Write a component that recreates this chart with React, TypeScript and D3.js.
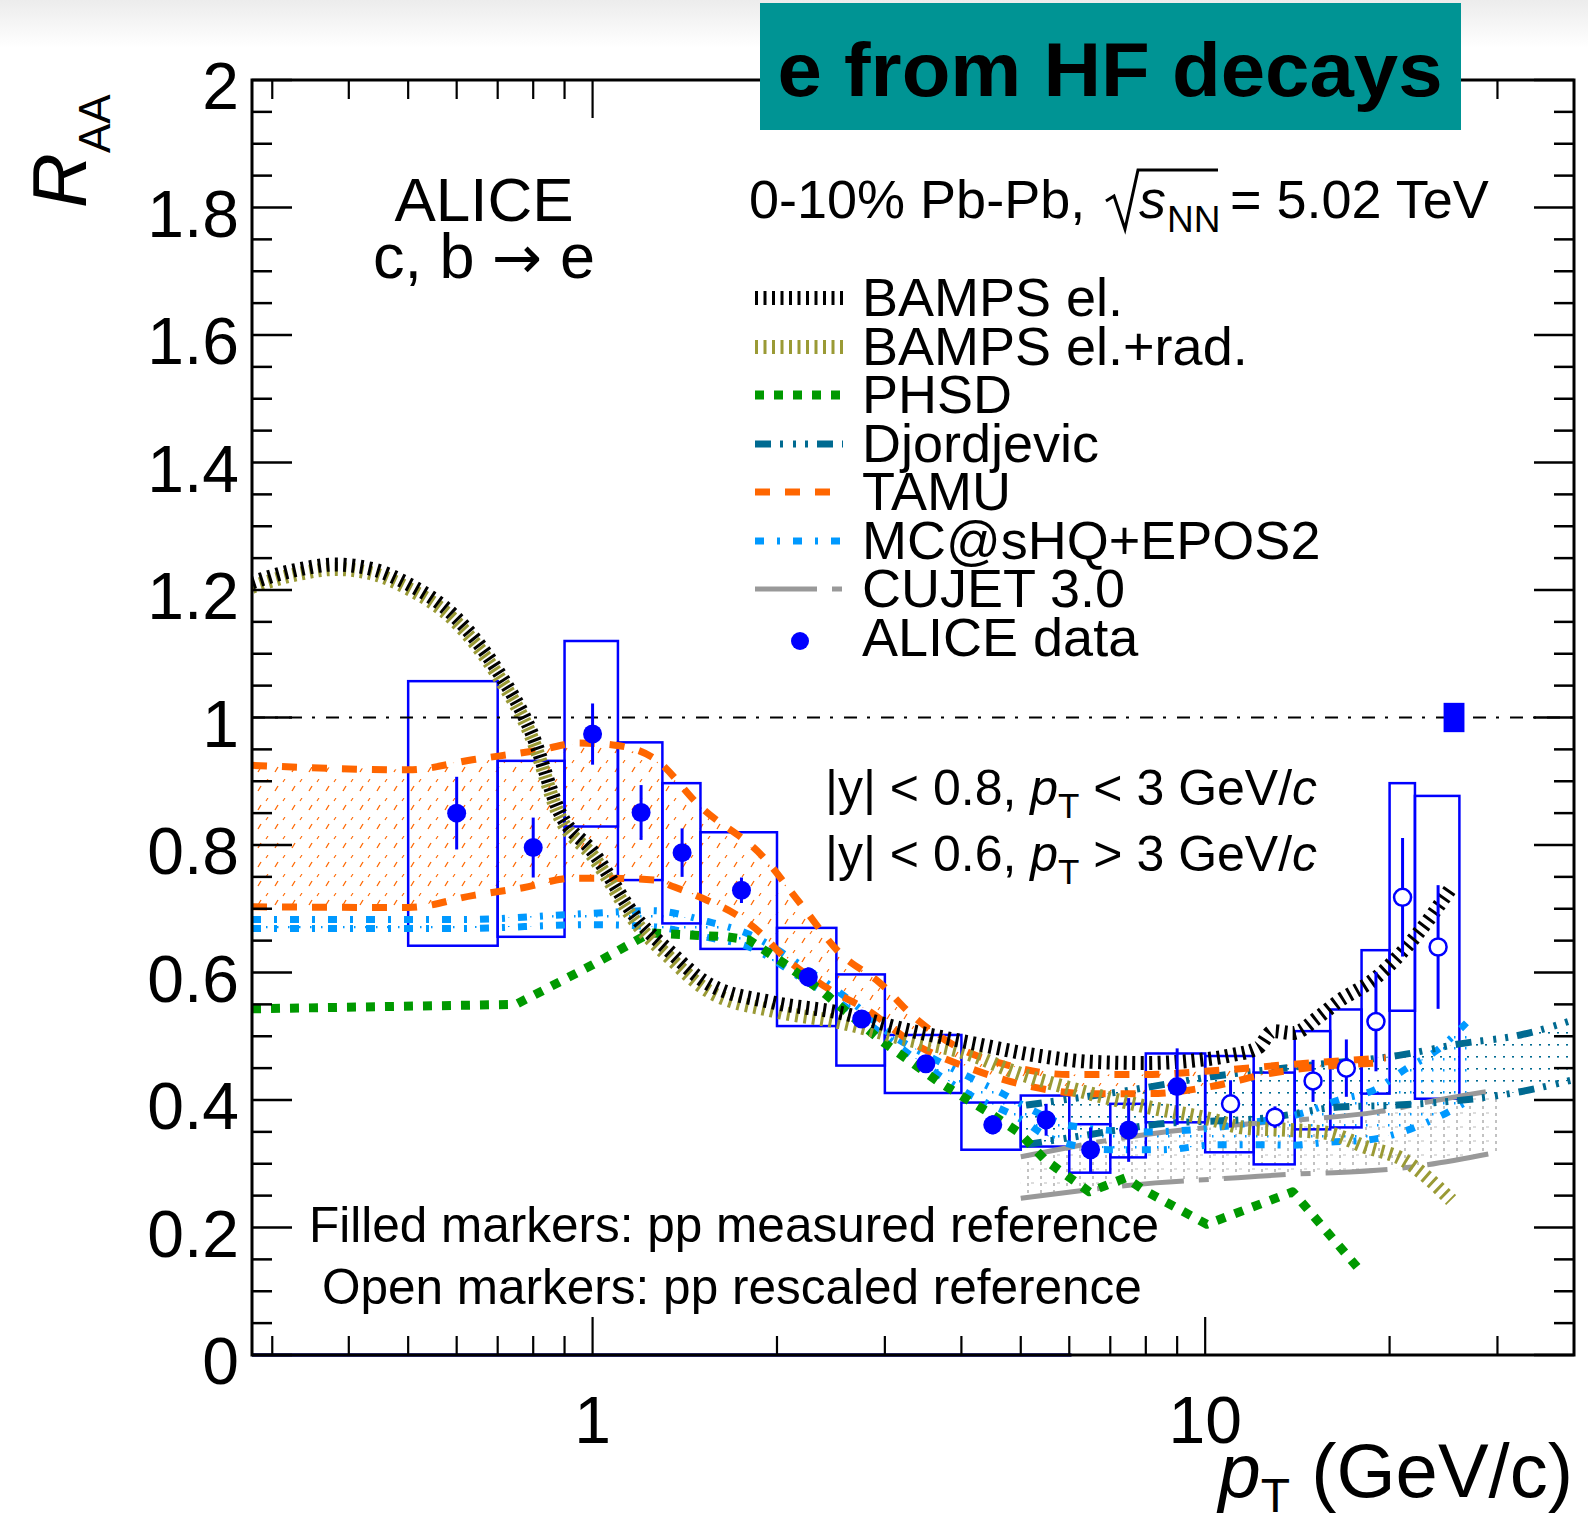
import React from 'react';
import * as d3 from 'd3';

const W = 1588;
const H = 1527;
const FONT = '"Liberation Sans", Arial, Helvetica, sans-serif';

// ---------- axes ----------
const ptDomain: [number, number] = [0.278, 40];
const raaDomain: [number, number] = [0, 2];
const yMajorTicks = [0, 0.2, 0.4, 0.6, 0.8, 1, 1.2, 1.4, 1.6, 1.8, 2];
const yTickLabels = ['0', '0.2', '0.4', '0.6', '0.8', '1', '1.2', '1.4', '1.6', '1.8', '2'];
const yMinorTicks = d3.range(0, 41).map((i) => i * 0.05).filter((v) => Math.abs(v * 5 - Math.round(v * 5)) > 1e-6);
const xMajorTicks = [1, 10];
const xTickLabels = ['1', '10'];
const xMinorTicks = [0.3, 0.4, 0.5, 0.6, 0.7, 0.8, 0.9, 2, 3, 4, 5, 6, 7, 8, 9, 20, 30];

// ---------- ALICE data ----------
const dataPt = [0.6, 0.8, 1.0, 1.2, 1.4, 1.75, 2.25, 2.75, 3.5, 4.5, 5.5, 6.5, 7.5, 9, 11, 13, 15, 17, 19, 21, 24];
const dataRaa = [0.85, 0.796, 0.974, 0.851, 0.788, 0.729, 0.593, 0.527, 0.457, 0.361, 0.369, 0.322, 0.353, 0.421, 0.394, 0.373, 0.43, 0.45, 0.523, 0.718, 0.64];
const dataStat = [0.057, 0.047, 0.048, 0.043, 0.038, 0.02, 0.015, 0.012, 0.01, 0.015, 0.025, 0.035, 0.05, 0.06, 0.037, 0.017, 0.033, 0.045, 0.078, 0.093, 0.097];
const dataSysLow = [0.642, 0.656, 0.829, 0.745, 0.677, 0.637, 0.516, 0.454, 0.411, 0.322, 0.327, 0.286, 0.31, 0.365, 0.318, 0.299, 0.354, 0.357, 0.41, 0.54, 0.402];
const dataSysHigh = [1.057, 0.932, 1.12, 0.961, 0.897, 0.82, 0.67, 0.597, 0.502, 0.396, 0.407, 0.362, 0.394, 0.473, 0.469, 0.443, 0.508, 0.542, 0.635, 0.897, 0.877];
const dataBinLow = [0.5, 0.7, 0.9, 1.1, 1.3, 1.5, 2.0, 2.5, 3, 4, 5, 6, 7, 8, 10, 12, 14, 16, 18, 20, 22];
const dataBinHigh = [0.7, 0.9, 1.1, 1.3, 1.5, 2.0, 2.5, 3.0, 4, 5, 6, 7, 8, 10, 12, 14, 16, 18, 20, 22, 26];
const dataOpen = [false, false, false, false, false, false, false, false, false, false, false, false, false, false, true, true, true, true, true, true, true];
const normUncertainty = 0.023;
const normBoxPt: [number, number] = [24.5, 26.5];

// ---------- models ----------
type P = [number, number];
const bampsEl: P[] = [[0.278, 1.212], [0.33, 1.232], [0.38, 1.24], [0.44, 1.232], [0.494, 1.212], [0.598, 1.157], [0.696, 1.077], [0.796, 0.975], [0.885, 0.85], [1.0, 0.79], [1.196, 0.678], [1.33, 0.635], [1.54, 0.583], [1.97, 0.553], [2.53, 0.537], [3.26, 0.51], [4.18, 0.489], [5.38, 0.469], [6.5, 0.46], [8, 0.458], [9.6, 0.462], [11, 0.47], [12.2, 0.482], [12.9, 0.508], [13.9, 0.505], [15.3, 0.53], [16.4, 0.553], [18.9, 0.59], [22.2, 0.66], [25.1, 0.73]];
const bampsElRad: P[] = [[0.278, 1.205], [0.33, 1.225], [0.38, 1.233], [0.44, 1.225], [0.494, 1.205], [0.598, 1.15], [0.696, 1.07], [0.796, 0.968], [0.885, 0.843], [1.0, 0.783], [1.196, 0.67], [1.33, 0.625], [1.54, 0.572], [1.97, 0.54], [2.53, 0.522], [3.26, 0.495], [4.18, 0.47], [4.76, 0.448], [6.15, 0.416], [8.06, 0.389], [10.3, 0.369], [11.5, 0.357], [13.7, 0.353], [15.9, 0.348], [18.2, 0.327], [21, 0.307], [25.2, 0.243]];
const phsd: P[] = [[0.278, 0.543], [0.75, 0.55], [1.0, 0.612], [1.24, 0.662], [1.66, 0.656], [1.8, 0.651], [2.05, 0.615], [2.38, 0.569], [2.95, 0.494], [3.69, 0.427], [4.44, 0.38], [4.98, 0.348], [5.48, 0.306], [6.47, 0.256], [7.42, 0.278], [7.93, 0.259], [10.06, 0.205], [13.9, 0.256], [17.7, 0.138]];
const djordjevicUpper: P[] = [[5.1, 0.392], [7.6, 0.416], [10.3, 0.437], [15, 0.455], [20.7, 0.47], [26, 0.488], [32.7, 0.502], [40, 0.526]];
const djordjevicLower: P[] = [[5.1, 0.33], [6.4, 0.345], [8.2, 0.361], [12.9, 0.373], [16.5, 0.389], [20.6, 0.392], [32.7, 0.413], [40, 0.432]];
const tamuUpper: P[] = [[0.278, 0.925], [0.5, 0.918], [0.64, 0.934], [0.82, 0.949], [0.95, 0.96], [1.08, 0.957], [1.26, 0.936], [1.5, 0.86], [1.9, 0.781], [2.18, 0.709], [2.53, 0.631], [2.95, 0.583], [3.34, 0.531], [3.94, 0.483], [4.74, 0.455], [6, 0.44], [8, 0.44], [10, 0.445], [14.3, 0.457], [19.7, 0.466]];
const tamuLower: P[] = [[0.278, 0.703], [0.5, 0.702], [0.64, 0.721], [0.77, 0.733], [0.93, 0.748], [1.06, 0.748], [1.26, 0.745], [1.36, 0.734], [1.54, 0.713], [1.7, 0.693], [1.88, 0.662], [2.02, 0.631], [2.44, 0.573], [2.8, 0.542], [3.34, 0.489], [4.18, 0.448], [5.2, 0.421], [6.4, 0.41], [8.1, 0.41], [10.2, 0.421], [12.8, 0.442], [15.3, 0.452], [19, 0.458]];
const mcshqUpper: P[] = [[0.278, 0.683], [0.6, 0.683], [1.0, 0.693], [1.25, 0.697], [1.54, 0.68], [1.8, 0.66], [2.2, 0.61], [2.6, 0.56], [3.1, 0.5], [3.6, 0.465], [4.1, 0.437], [4.65, 0.411], [5.3, 0.381], [6, 0.36], [8, 0.35], [10, 0.355], [12, 0.365], [14.5, 0.38], [16.5, 0.4], [18.9, 0.416], [21.2, 0.448], [23.9, 0.478], [26.7, 0.521]];
const mcshqLower: P[] = [[0.278, 0.669], [0.6, 0.669], [1.0, 0.675], [1.25, 0.672], [1.54, 0.655], [1.8, 0.64], [2.2, 0.59], [2.6, 0.545], [3.1, 0.49], [3.6, 0.445], [4.1, 0.41], [5.0, 0.37], [5.6, 0.34], [7, 0.322], [8.5, 0.322], [10.5, 0.33], [12.2, 0.33], [13.9, 0.329], [15.9, 0.334], [18.3, 0.337], [21, 0.35], [24, 0.373], [27, 0.4]];
const cujetUpper: P[] = [[5.0, 0.311], [8.3, 0.348], [11.3, 0.361], [14.3, 0.369], [19, 0.381], [24, 0.4], [30, 0.416]];
const cujetLower: P[] = [[5.0, 0.246], [8.3, 0.27], [11.3, 0.278], [14.1, 0.284], [16.2, 0.286], [21.3, 0.294], [30, 0.318]];
const zeroLine: P[] = [[0.278, 0], [6.05, 0]];

const legendLabels = ['BAMPS el.', 'BAMPS el.+rad.', 'PHSD', 'Djordjevic', 'TAMU', 'MC@sHQ+EPOS2', 'CUJET 3.0', 'ALICE data'];

// ---------- styles ----------
const styles = {
  bampsEl: { stroke: '#000000', strokeWidth: 14, strokeDasharray: '3 5.5' },
  bampsElRad: { stroke: '#9a9a35', strokeWidth: 14, strokeDasharray: '3 5.5' },
  phsd: { stroke: '#009900', strokeWidth: 9, strokeDasharray: '9 10' },
  djordjevic: { stroke: '#006a91', strokeWidth: 7, strokeDasharray: '16 9 3 10 3 9 3 9' },
  tamu: { stroke: '#ff6600', strokeWidth: 7, strokeDasharray: '15 15' },
  mcshq: { stroke: '#0099ff', strokeWidth: 7, strokeDasharray: '9 13 3 13' },
  cujet: { stroke: '#999999', strokeWidth: 5, strokeDasharray: '62 15 10 15' },
};
const BLUE = '#0000ff';

const x = d3.scaleLog().domain(ptDomain).range([252, 1574]);
const y = d3.scaleLinear().domain(raaDomain).range([1355, 80]);
const X0 = x(ptDomain[0]);
const X1 = x(ptDomain[1]);
const Y0 = y(raaDomain[0]);
const Y1 = y(raaDomain[1]);

const lineSmooth = d3.line<P>().x((d) => x(d[0])).y((d) => y(d[1])).curve(d3.curveMonotoneX);
const lineLin = d3.line<P>().x((d) => x(d[0])).y((d) => y(d[1]));
const bandPath = (up: P[], lo: P[]) => lineLin([...up, ...lo.slice().reverse()]) + 'Z';

function Curve({ data, st, smooth = true }: { data: P[]; st: any; smooth?: boolean }) {
  return <path d={(smooth ? lineSmooth : lineLin)(data) || ''} fill="none" {...st} strokeLinecap="butt" strokeLinejoin="round" />;
}

export default function App() {
  const legendStyles = [styles.bampsEl, styles.bampsElRad, styles.phsd, styles.djordjevic, styles.tamu, styles.mcshq, styles.cujet];
  const legendBase = [316, 365, 413, 462, 510, 559, 607, 656];

  return (
    <svg width={W} height={H} viewBox={`0 0 ${W} ${H}`} style={{ position: 'absolute', left: 0, top: 0, display: 'block', background: '#fff' }} fontFamily={FONT}>
      <defs>
        <linearGradient id="topShade" x1="0" y1="0" x2="0" y2="1">
          <stop offset="0" stopColor="#ececec" />
          <stop offset="1" stopColor="#ffffff" />
        </linearGradient>
        <clipPath id="frameClip">
          <rect x={X0} y={Y1} width={X1 - X0} height={Y0 - Y1} />
        </clipPath>
        <pattern id="tamuHatch" width="17" height="19" patternUnits="userSpaceOnUse">
          <path d="M3,12 L6,7" stroke="#ff6600" strokeWidth="1.3" />
          <path d="M11,3 L13,0" stroke="#ff6600" strokeWidth="1.1" />
        </pattern>
        <pattern id="djHatch" width="9" height="12" patternUnits="userSpaceOnUse">
          <rect x="0" y="0" width="2" height="1.6" fill="#006a91" />
        </pattern>
        <pattern id="mcHatch" width="11" height="11" patternUnits="userSpaceOnUse">
          <rect x="2" y="2" width="1.5" height="2.5" fill="#0099ff" />
        </pattern>
        <pattern id="cujetHatch" width="13" height="14" patternUnits="userSpaceOnUse">
          <line x1="1" y1="0" x2="1" y2="3" stroke="#999999" strokeWidth="1.2" />
          <line x1="1" y1="7" x2="1" y2="10" stroke="#999999" strokeWidth="1.2" />
          <line x1="4" y1="7" x2="7" y2="7" stroke="#bbbbbb" strokeWidth="1" />
        </pattern>
      </defs>

      <rect x={0} y={0} width={W} height={48} fill="url(#topShade)" />

      {/* bands & models */}
      <g clipPath="url(#frameClip)">
        <path d={bandPath(tamuUpper, tamuLower)} fill="url(#tamuHatch)" />
        <path d={bandPath(cujetUpper, cujetLower)} fill="url(#cujetHatch)" />
        <path d={bandPath(djordjevicUpper, djordjevicLower)} fill="url(#djHatch)" />
        <path d={bandPath(mcshqUpper, mcshqLower)} fill="url(#mcHatch)" />

        {/* systematic boxes */}
        {dataPt.map((_, i) => (
          <rect key={'b' + i} x={x(dataBinLow[i])} y={y(dataSysHigh[i])} width={x(dataBinHigh[i]) - x(dataBinLow[i])} height={y(dataSysLow[i]) - y(dataSysHigh[i])} fill="none" stroke={BLUE} strokeWidth={2.5} />
        ))}

        <Curve data={cujetUpper} st={styles.cujet} />
        <Curve data={cujetLower} st={styles.cujet} />
        <Curve data={mcshqUpper} st={styles.mcshq} />
        <Curve data={mcshqLower} st={styles.mcshq} />
        <Curve data={djordjevicUpper} st={styles.djordjevic} />
        <Curve data={djordjevicLower} st={styles.djordjevic} />
        <Curve data={tamuUpper} st={styles.tamu} />
        <Curve data={tamuLower} st={styles.tamu} />
        <Curve data={phsd} st={styles.phsd} smooth={false} />
        <Curve data={bampsElRad} st={styles.bampsElRad} />
        <Curve data={bampsEl} st={styles.bampsEl} />

        {/* unity line */}
        <line x1={X0} x2={X1} y1={y(1)} y2={y(1)} stroke="#000" strokeWidth={2} strokeDasharray="13 10 3 11" />

        {/* normalisation uncertainty */}
        <rect x={x(normBoxPt[0])} y={y(1 + normUncertainty)} width={x(normBoxPt[1]) - x(normBoxPt[0])} height={y(1 - normUncertainty) - y(1 + normUncertainty)} fill={BLUE} />

        {/* stat errors & markers */}
        {dataPt.map((pt, i) => (
          <line key={'e' + i} x1={x(pt)} x2={x(pt)} y1={y(dataRaa[i] + dataStat[i])} y2={y(dataRaa[i] - dataStat[i])} stroke={BLUE} strokeWidth={3} />
        ))}
        {dataPt.map((pt, i) => (
          <circle key={'m' + i} cx={x(pt)} cy={y(dataRaa[i])} r={dataOpen[i] ? 8.5 : 9.5} fill={dataOpen[i] ? '#fff' : BLUE} stroke={BLUE} strokeWidth={dataOpen[i] ? 2.5 : 0} />
        ))}
      </g>

      {/* zero-level line */}
      <path d={lineLin(zeroLine) || ''} stroke="#000080" strokeWidth={3.5} fill="none" />

      {/* frame */}
      <rect x={X0} y={Y1} width={X1 - X0} height={Y0 - Y1} fill="none" stroke="#000" strokeWidth={3} />
      {yMajorTicks.map((v) => (
        <g key={'ym' + v}>
          <line x1={X0} x2={X0 + 40} y1={y(v)} y2={y(v)} stroke="#000" strokeWidth={2.5} />
          <line x1={X1} x2={X1 - 40} y1={y(v)} y2={y(v)} stroke="#000" strokeWidth={2.5} />
        </g>
      ))}
      {yMinorTicks.map((v) => (
        <g key={'yn' + v}>
          <line x1={X0} x2={X0 + 20} y1={y(v)} y2={y(v)} stroke="#000" strokeWidth={2.5} />
          <line x1={X1} x2={X1 - 20} y1={y(v)} y2={y(v)} stroke="#000" strokeWidth={2.5} />
        </g>
      ))}
      {xMajorTicks.map((v) => (
        <g key={'xm' + v}>
          <line x1={x(v)} x2={x(v)} y1={Y0} y2={Y0 - 38} stroke="#000" strokeWidth={2.2} />
          <line x1={x(v)} x2={x(v)} y1={Y1} y2={Y1 + 38} stroke="#000" strokeWidth={2.2} />
        </g>
      ))}
      {xMinorTicks.map((v) => (
        <g key={'xn' + v}>
          <line x1={x(v)} x2={x(v)} y1={Y0} y2={Y0 - 19} stroke="#000" strokeWidth={2.2} />
          <line x1={x(v)} x2={x(v)} y1={Y1} y2={Y1 + 19} stroke="#000" strokeWidth={2.2} />
        </g>
      ))}

      {/* title box (drawn over the frame) */}
      <rect x={760} y={3} width={701} height={127} fill="#009494" />
      <text x={1110} y={96} textAnchor="middle" fontSize={76} fontWeight="bold" fill="#000" textLength={665} lengthAdjust="spacingAndGlyphs">e from HF decays</text>

      {/* tick labels */}
      {yMajorTicks.map((v, i) => (
        <text key={'yl' + v} x={239} y={y(v) + 29} textAnchor="end" fontSize={66}>{yTickLabels[i]}</text>
      ))}
      {xMajorTicks.map((v, i) => (
        <text key={'xl' + v} x={x(v)} y={1443} textAnchor="middle" fontSize={66}>{xTickLabels[i]}</text>
      ))}

      {/* axis titles */}
      <text x={1573} y={1497} textAnchor="end" fontSize={76}>
        <tspan fontStyle="italic">p</tspan>
        <tspan fontSize={48} dy={15}>T</tspan>
        <tspan dy={-15}> (GeV/c)</tspan>
      </text>
      <text transform="translate(86,208) rotate(-90)" fontSize={76}>
        <tspan fontStyle="italic">R</tspan>
        <tspan fontSize={44} dy={24}>AA</tspan>
      </text>

      {/* labels */}
      <text x={484} y={221} textAnchor="middle" fontSize={62}>ALICE</text>
      <text x={484} y={278} textAnchor="middle" fontSize={63}>
        c, b <tspan fontFamily='"DejaVu Sans", sans-serif' fontSize={60}>→</tspan> e
      </text>

      <text x={749} y={218} fontSize={54}>0-10% Pb-Pb,</text>
      <path d="M1106,201 L1114,196 L1125,229 L1138,170 L1218,170" fill="none" stroke="#000" strokeWidth={3} />
      <text x={1139} y={218} fontSize={54} fontStyle="italic">s</text>
      <text x={1167} y={232} fontSize={37}>NN</text>
      <text x={1230} y={218} fontSize={54}>= 5.02 TeV</text>

      <text x={825} y={805} fontSize={50}>
        |y| &lt; 0.8, <tspan fontStyle="italic">p</tspan>
        <tspan fontSize={35} dy={13}>T</tspan>
        <tspan dy={-13}> &lt; 3 GeV/</tspan>
        <tspan fontStyle="italic">c</tspan>
      </text>
      <text x={825} y={871} fontSize={50}>
        |y| &lt; 0.6, <tspan fontStyle="italic">p</tspan>
        <tspan fontSize={35} dy={13}>T</tspan>
        <tspan dy={-13}> &gt; 3 GeV/</tspan>
        <tspan fontStyle="italic">c</tspan>
      </text>

      <text x={309} y={1242} fontSize={49.5}>Filled markers: pp measured reference</text>
      <text x={322} y={1304} fontSize={49.5}>Open markers: pp rescaled reference</text>

      {/* legend */}
      {legendLabels.map((lab, i) => (
        <g key={'lg' + i}>
          {i < 7 ? (
            <line x1={755} x2={843} y1={legendBase[i] - 18} y2={legendBase[i] - 18} fill="none" {...legendStyles[i]} />
          ) : (
            <circle cx={800} cy={legendBase[i] - 15} r={9} fill={BLUE} />
          )}
          <text x={862} y={legendBase[i]} fontSize={54}>{lab}</text>
        </g>
      ))}
    </svg>
  );
}
